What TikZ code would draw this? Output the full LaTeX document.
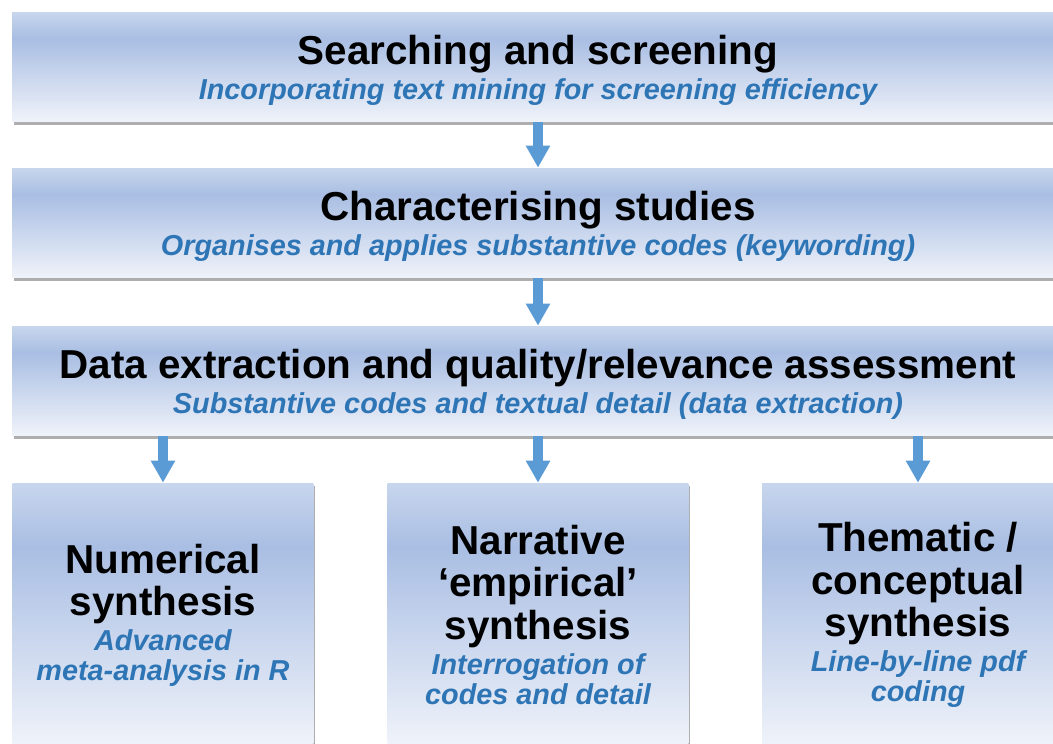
\documentclass[tikz,border=0pt]{standalone}
\usepackage{fontspec}
\setmainfont{Liberation Sans}
\usetikzlibrary{arrows.meta, shadows}

\definecolor{paneltop}{HTML}{C8D6ED}
\definecolor{paneldark}{HTML}{A9BEE3}
\definecolor{panelbot}{HTML}{F0F3FA}
\definecolor{noteblue}{HTML}{2E75B6}
\definecolor{flowblue}{HTML}{5B9BD5}

% light at the top, darkest a quarter down, nearly white at the bottom
\pgfdeclareverticalshading{panelshade}{100bp}{color(0bp)=(panelbot); color(25bp)=(panelbot);
  color(63bp)=(paneldark); color(75bp)=(paneltop); color(100bp)=(paneltop)}

\newcommand{\headfont}{\fontsize{23}{24}\selectfont\bfseries}
\newcommand{\notefont}{\fontsize{16.4}{17}\selectfont\bfseries\itshape\color{noteblue}}

\begin{document}
\begin{tikzpicture}[x=0.02cm, y=-0.02cm,
    panel/.style={shading=panelshade, inner sep=0pt, align=center,
        font=\fontsize{16}{24}\selectfont,
        drop shadow={shadow xshift=0.04cm, shadow yshift=-0.06cm, opacity=0.45, fill=black!70}},
    wide/.style={panel, minimum width=21.04cm, minimum height=2.2cm, text height=40pt},
    tall/.style={panel, minimum width=6.02cm, minimum height=5.28cm},
    flow/.style={draw=flowblue, line width=0.19cm, -{Triangle[width=0.46cm, length=0.44cm]}}]

        \useasboundingbox (0,0) rectangle (1053,743);
        \clip (0,0) rectangle (1053,743);

        \node[wide] (search) at (538,67)
            {{\headfont Searching and screening}\\[-4pt]
             {\notefont Incorporating text mining for screening efficiency}};

        \node[wide] (charac) at (538,223)
            {{\headfont Characterising studies}\\[-4pt]
             {\notefont Organises and applies substantive codes (keywording)}};

        \node[wide] (extract) at (538,381)
            {{\headfont Data extraction and quality/relevance assessment}\\[-4pt]
             {\notefont Substantive codes and textual detail (data extraction)}};

        \node[tall] (numer) at (163,615)
            {{\headfont Numerical}\\{\headfont synthesis}\\[-4pt]
             {\notefont Advanced}\\[-7pt]{\notefont meta-analysis in R}};

        \node[tall] (narr) at (538,615)
            {{\headfont Narrative}\\{\headfont `empirical'}\\{\headfont synthesis}\\[-4pt]
             {\notefont Interrogation of}\\[-7pt]{\notefont codes and detail}};

        \node[tall, minimum width=6.24cm] (thema) at (918,615)
            {{\headfont Thematic /}\\{\headfont conceptual}\\{\headfont synthesis}\\[-4pt]
             {\notefont Line-by-line pdf}\\[-7pt]{\notefont coding}};

        \draw[flow] (search) -- (charac);
        \draw[flow] (charac) -- (extract);
        \foreach \target in {numer, narr, thema}
            \draw[flow] (extract.south -| \target.north) -- (\target.north);
\end{tikzpicture}
\end{document}
